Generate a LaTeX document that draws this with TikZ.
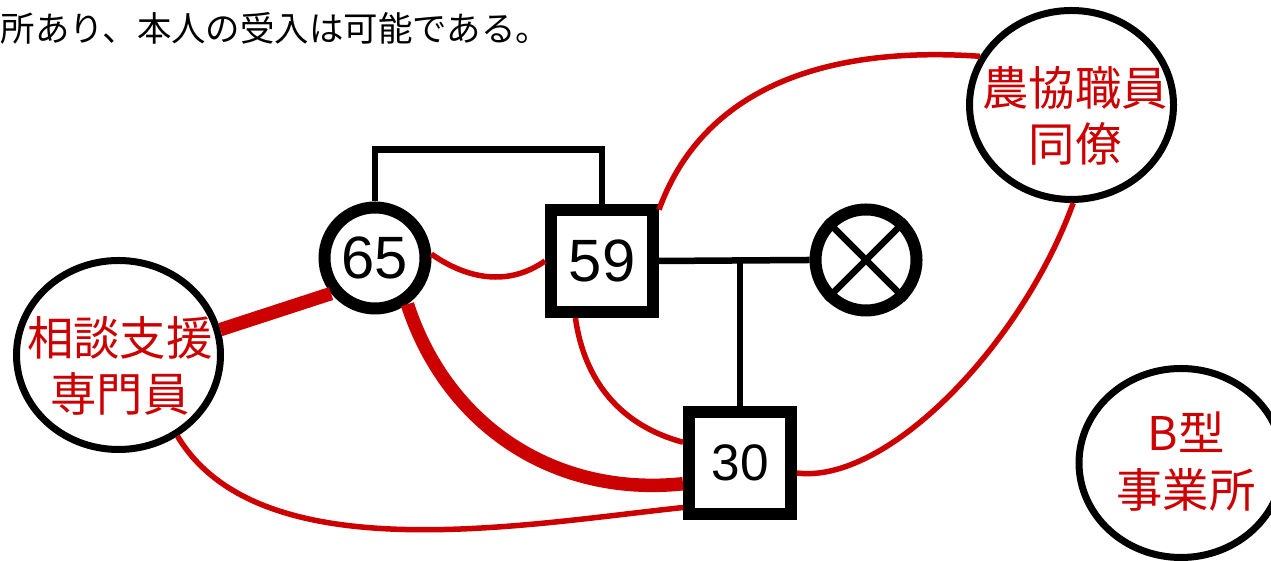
\documentclass[tikz,border=0pt]{standalone}
\usepackage{fontspec}
\setmainfont{Liberation Sans}
\newfontfamily\jpfont{Noto Sans CJK JP}
\usetikzlibrary{shapes.geometric}
\definecolor{tiered}{RGB}{204,0,0}
\begin{document}
\begin{tikzpicture}[
  female/.style={draw, circle, line width=0.12cm, minimum size=1.01cm, inner sep=0pt, font=\fontsize{17}{20}\selectfont},
  male/.style={draw, rectangle, line width=0.12cm, minimum size=1.02cm, inner sep=0pt, font=\fontsize{17}{20}\selectfont},
  party/.style={draw, ellipse, line width=0.07cm, minimum width=2.04cm, minimum height=1.89cm, inner sep=0pt},
  partytext/.style={align=center, text=tiered, inner sep=0pt, font=\jpfont\fontsize{13.2}{16}\selectfont},
  kin/.style={line width=0.065cm},
  tie/.style={draw=tiered, line width=0.055cm},
  strongtie/.style={draw=tiered, line width=0.135cm}
]
\useasboundingbox (0,0) rectangle (12.71,5.61);

\node[anchor=west, inner sep=0pt, font=\jpfont\fontsize{9.8}{11}\selectfont] (note) at (0,5.33) {所あり、本人の受入は可能である。};

\node[female] (n65) at (3.75,3.03) {65};
\node[male] (n59) at (6.02,3.00) {59};
\node[female] (nx) at (8.66,3.01) {};
\node[male, font=\fontsize{14.6}{17}\selectfont] (n30) at (7.40,0.98) {30};

\node[party] (cs) at (1.185,2.06) {};
\node[party] (ns) at (10.715,4.56) {};
\node[party] (nb) at (11.81,0.98) {};
\node[partytext] (cstext) at (1.20,1.95) {相談支援\\専門員};
\node[partytext] (nstext) at (10.75,4.45) {農協職員\\同僚};
\node[partytext] (nbtext) at (11.86,0.995) {B型\\事業所};

% family lines
\draw[kin] (n65.north) -- ++(0,0.52) -| (n59.north);
\draw[kin] (n59.east) -- (nx.west);
\draw[kin] (n30.north) -- (n30.north |- n59.east);
\draw[kin] (nx.45) -- (nx.225) (nx.135) -- (nx.315);

% ties
\path[tie] (n65.4) to[out=-35,in=-145] (n59.west);
\path[strongtie] (cs.14) -- (n65.219);
\path[strongtie] (n65.305) to[out=-72,in=186] (n30.200);
\path[tie] (n59.245) to[out=-82,in=165] (n30.160);
\path[tie] (cs.306) to[out=-59,in=186,looseness=0.8] (n30.218);
\path[tie] (n59.42) to[out=70,in=176] (ns.152);
\path[tie] (ns.-89) to[out=-110,in=-7,in looseness=0.6] (n30.-10);
\end{tikzpicture}
\end{document}
